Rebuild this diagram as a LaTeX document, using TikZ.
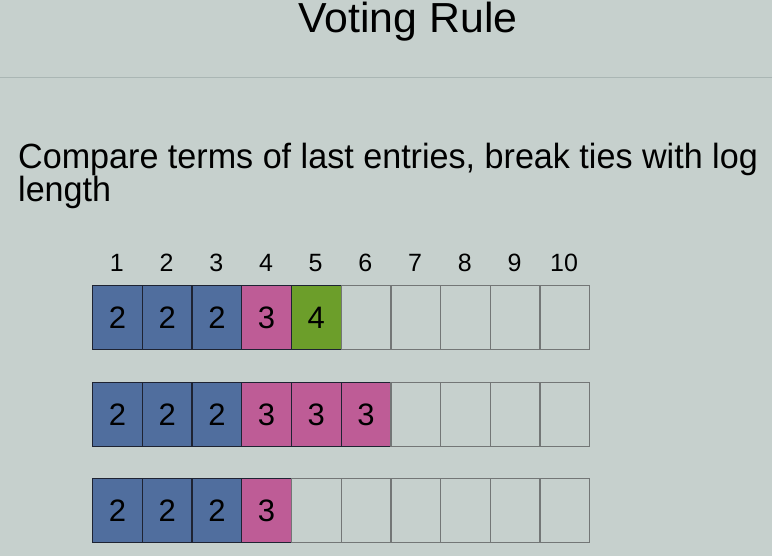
\documentclass[tikz,border=0pt]{standalone}
\usepackage{graphicx}
\usepackage{fontspec}
\setmainfont{Liberation Sans}
\definecolor{bg}{RGB}{198,208,205}
\definecolor{cblue}{RGB}{80,110,158}
\definecolor{cpink}{RGB}{190,92,150}
\definecolor{cgreen}{RGB}{108,158,42}
\definecolor{rule}{RGB}{170,182,180}
\definecolor{emptyline}{RGB}{115,118,118}
\definecolor{darkline}{RGB}{30,35,50}
\begin{document}
\begin{tikzpicture}[x=1pt,y=-1pt,
  cell/.style={draw=emptyline,line width=1.3pt,minimum width=49.7pt,minimum height=64pt,inner sep=0pt,anchor=north west,font=\fontsize{31}{31}\selectfont},
  bluecell/.style={cell,fill=cblue,draw=darkline},
  pinkcell/.style={cell,fill=cpink,draw=darkline},
  greencell/.style={cell,fill=cgreen,draw=darkline},
  emptycell/.style={cell},
  idx/.style={anchor=base,font=\fontsize{25}{25}\selectfont},
  body/.style={anchor=base west,inner sep=0pt,font=\fontsize{35}{35}\selectfont}]
\fill[bg] (0,0) rectangle (772,556);
\useasboundingbox (0,0) rectangle (772,556);
\node[anchor=base,inner sep=0pt,font=\fontsize{42}{42}\selectfont] (title) at (408,33) {\scalebox{1.02}[1]{Voting Rule}};
\draw[rule,line width=1pt] (0,78) coordinate (rl) -- (772,78) coordinate (rr);
\node[body] (line1) at (18,169) {\scalebox{0.975}[1]{Compare terms of last entries, break ties with log}};
\node[body] (line2) at (18,202) {\scalebox{0.975}[1]{length}};
\foreach \i in {1,...,10} {
  \node[idx] (h\i) at ({92+49.7*(\i-0.5)},272) {\i};
}
% row 1
\foreach \i/\s/\t in {1/bluecell/2,2/bluecell/2,3/bluecell/2,4/pinkcell/3,5/greencell/4,6/emptycell/,7/emptycell/,8/emptycell/,9/emptycell/,10/emptycell/} {
  \node[\s] (a\i) at ({92+49.7*(\i-1)},285) {\t};
}
% row 2
\foreach \i/\s/\t in {1/bluecell/2,2/bluecell/2,3/bluecell/2,4/pinkcell/3,5/pinkcell/3,6/pinkcell/3,7/emptycell/,8/emptycell/,9/emptycell/,10/emptycell/} {
  \node[\s] (b\i) at ({92+49.7*(\i-1)},382) {\t};
}
% row 3
\foreach \i/\s/\t in {1/bluecell/2,2/bluecell/2,3/bluecell/2,4/pinkcell/3,5/emptycell/,6/emptycell/,7/emptycell/,8/emptycell/,9/emptycell/,10/emptycell/} {
  \node[\s] (c\i) at ({92+49.7*(\i-1)},478) {\t};
}
\end{tikzpicture}
\end{document}
